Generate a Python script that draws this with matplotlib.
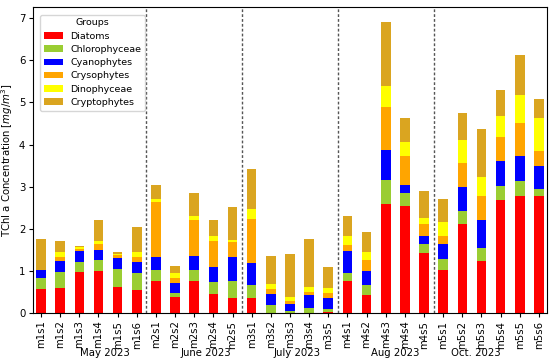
import matplotlib
matplotlib.use("Agg")
import matplotlib.pyplot as plt
import numpy as np

samples = ["m1s1", "m1s2", "m1s3", "m1s4", "m1s5", "m1s6",
           "m2s1", "m2s2", "m2s3", "m2s4", "m2s5",
           "m3s1", "m3s2", "m3s3", "m3s4", "m3s5",
           "m4s1", "m4s2", "m4s3", "m4s4", "m4s5",
           "m5s1", "m5s2", "m5s3", "m5s4", "m5s5", "m5s6"]

groups = ["Diatoms", "Chlorophyceae", "Cyanophytes", "Crysophytes", "Dinophyceae", "Cryptophytes"]
colors = ["red", "yellowgreen", "blue", "orange", "yellow", "goldenrod"]

diatoms = [0.58, 0.60, 0.98, 1.00, 0.62, 0.55,
           0.75, 0.38, 0.75, 0.45, 0.35,
           0.35, 0.00, 0.00, 0.00, 0.02,
           0.76, 0.42, 2.60, 2.55, 1.42,
           1.02, 2.11, 1.24, 2.68, 2.77, 2.77]
chlorophyceae = [0.25, 0.38, 0.24, 0.25, 0.42, 0.40,
                 0.27, 0.09, 0.26, 0.28, 0.40,
                 0.32, 0.18, 0.05, 0.13, 0.07,
                 0.20, 0.25, 0.55, 0.29, 0.22,
                 0.26, 0.32, 0.30, 0.34, 0.36, 0.17]
cyanophytes = [0.20, 0.26, 0.25, 0.24, 0.26, 0.26,
               0.30, 0.24, 0.34, 0.36, 0.57,
               0.52, 0.27, 0.17, 0.30, 0.26,
               0.52, 0.32, 0.71, 0.21, 0.19,
               0.36, 0.57, 0.67, 0.58, 0.61, 0.54]
crysophytes = [0.00, 0.09, 0.05, 0.14, 0.08, 0.11,
               1.31, 0.12, 0.85, 0.63, 0.37,
               1.05, 0.11, 0.07, 0.06, 0.13,
               0.14, 0.26, 1.03, 0.69, 0.28,
               0.19, 0.56, 0.57, 0.57, 0.77, 0.36]
dinophyceae = [0.00, 0.13, 0.04, 0.07, 0.03, 0.12,
               0.08, 0.11, 0.10, 0.12, 0.05,
               0.22, 0.12, 0.08, 0.13, 0.12,
               0.21, 0.20, 0.51, 0.31, 0.14,
               0.32, 0.54, 0.46, 0.52, 0.66, 0.79]
cryptophytes = [0.73, 0.24, 0.04, 0.52, 0.05, 0.60,
                0.34, 0.18, 0.55, 0.38, 0.78,
                0.97, 0.68, 1.04, 1.14, 0.50,
                0.48, 0.47, 1.50, 0.58, 0.65,
                0.56, 0.65, 1.13, 0.61, 0.95, 0.46]

months = ["May 2023", "June 2023", "July 2023", "Aug 2023", "Oct. 2023"]
month_label_pos = [3.35, 8.6, 13.35, 18.5, 22.7]
month_dividers = [5.5, 10.5, 15.5, 20.5]

series = [diatoms, chlorophyceae, cyanophytes, crysophytes, dinophyceae, cryptophytes]

fig = plt.figure(figsize=(5.5, 3.62), dpi=100)
ax = fig.add_axes([0.06, 0.1354, 0.9345, 0.8456])

x = np.arange(len(samples))
bottom = np.zeros(len(samples))
for name, vals, c in zip(groups, series, colors):
    vals = np.array(vals)
    ax.bar(x, vals, width=0.5, bottom=bottom, color=c, label=name)
    bottom += vals

for d in month_dividers:
    ax.axvline(d, color="#555555", linestyle="--", linewidth=1.0, dashes=(2, 1.5))

ax.set_xlim(-0.42, len(samples) - 0.58)
ax.set_ylim(0, 7.27)
ax.set_xticks(x)
ax.set_xticklabels(samples, rotation=90, fontsize=7.3)
ax.set_yticks(range(0, 8))
ax.tick_params(axis="both", labelsize=7.3, pad=2.5, length=3)
ax.set_ylabel("TChl a Concentration [$mg/m^3$]", fontsize=7.3, labelpad=3)

for lbl, pos in zip(months, month_label_pos):
    ax.text(pos, -0.13, lbl, transform=ax.get_xaxis_transform(),
            ha="center", va="center", fontsize=7.3)

ax.legend(title="Groups", loc="upper left", fontsize=6.8, title_fontsize=6.8,
          handlelength=2.0, labelspacing=0.45, borderpad=0.4,
          bbox_to_anchor=(0.005, 0.99))

fig.savefig("out.png", dpi=100)
